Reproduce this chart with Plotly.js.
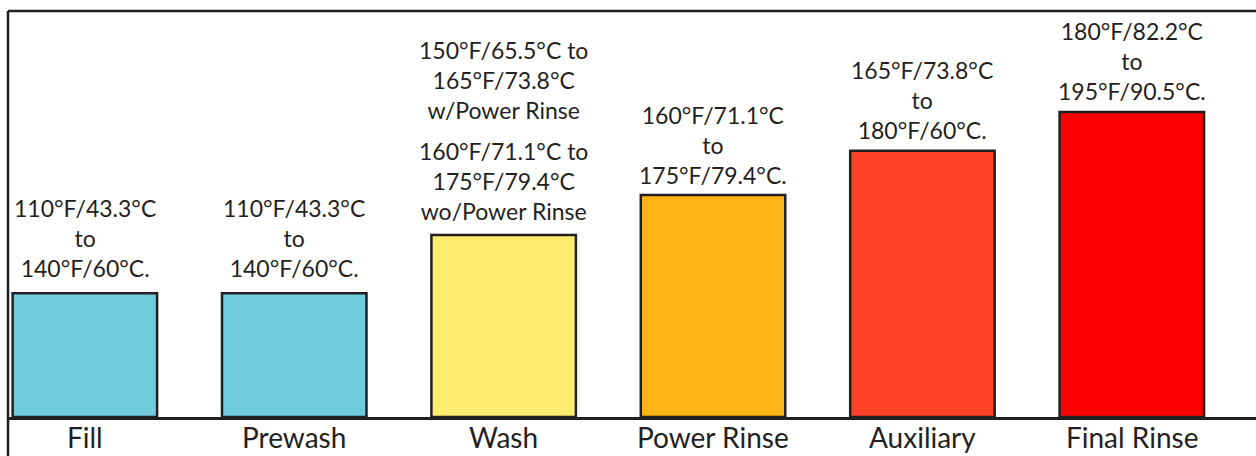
<!DOCTYPE html>
<html>
<head>
<meta charset="utf-8">
<script src="https://cdn.plot.ly/plotly-3.0.1.min.js"></script>
<style>html,body{margin:0;padding:0;background:#fff;}#chart{width:1256px;height:456px;}</style>
</head>
<body>
<div id="chart"></div>
<script>
// Data
var categories = ["Fill", "Prewash", "Wash", "Power Rinse", "Auxiliary", "Final Rinse"];
var barHeights = [30.5, 30.5, 44.8, 54.7, 65.6, 75.1]; // relative (schematic) heights
var rangeLabels = [
  "110°F/43.3°C<br>to<br>140°F/60°C.",
  "110°F/43.3°C<br>to<br>140°F/60°C.",
  "160°F/71.1°C to<br>175°F/79.4°C<br>wo/Power Rinse",
  "160°F/71.1°C<br>to<br>175°F/79.4°C.",
  "165°F/73.8°C<br>to<br>180°F/60°C.",
  "180°F/82.2°C<br>to<br>195°F/90.5°C."
];
var washAltLabel = "150°F/65.5°C to<br>165°F/73.8°C<br>w/Power Rinse";
var barColors = ["#6ECCDD", "#6ECCDD", "#FFEC6E", "#FDB515", "#FF4128", "#FF0000"];

var ink = "#231f20";
var font = "Lato, 'Open Sans', sans-serif";
var shifts = [9, 9, 8, 4, 5, 5];

var annotations = categories.map(function (c, i) {
  return {
    x: c, y: barHeights[i], xref: "x", yref: "y",
    text: rangeLabels[i], showarrow: false,
    xanchor: "center", yanchor: "bottom", yshift: shifts[i],
    font: {family: font, size: 23, color: ink}
  };
});
annotations.push({
  x: categories[2], y: barHeights[2], xref: "x", yref: "y",
  text: washAltLabel, showarrow: false,
  xanchor: "center", yanchor: "bottom", yshift: 109,
  font: {family: font, size: 23, color: ink}
});
// category labels under the axis
categories.forEach(function (c) {
  annotations.push({
    x: c, y: 0, xref: "x", yref: "paper",
    text: c, showarrow: false, borderpad: 0,
    xanchor: "center", yanchor: "bottom", yshift: -38,
    font: {family: font, size: 28, color: ink}
  });
});

var trace = {
  type: "bar",
  x: categories,
  y: barHeights,
  width: 0.69,
  marker: {color: barColors, line: {color: ink, width: 2.5}},
  hoverinfo: "skip"
};

var layout = {
  width: 1256, height: 456,
  margin: {l: 8, r: 0, t: 11, b: 39, pad: 0},
  paper_bgcolor: "#fff", plot_bgcolor: "#fff",
  showlegend: false,
  xaxis: {
    type: "category",
    range: [-0.367, 5.593],
    showgrid: false, zeroline: false,
    showline: true, linecolor: ink, linewidth: 2.5,
    ticks: "", showticklabels: false
  },
  yaxis: {
    range: [0, 100], visible: false, fixedrange: true
  },
  annotations: annotations,
  shapes: [
    {type: "line", xref: "paper", yref: "paper", x0: 0, x1: 1, y0: 1, y1: 1, line: {color: ink, width: 2.5}},
    {type: "line", xref: "paper", yref: "paper", x0: 0, x1: 0, y0: 1, y1: -0.1, line: {color: ink, width: 2.5}}
  ]
};

Plotly.newPlot("chart", [trace], layout, {staticPlot: true, displayModeBar: false});
</script>
</body>
</html>
